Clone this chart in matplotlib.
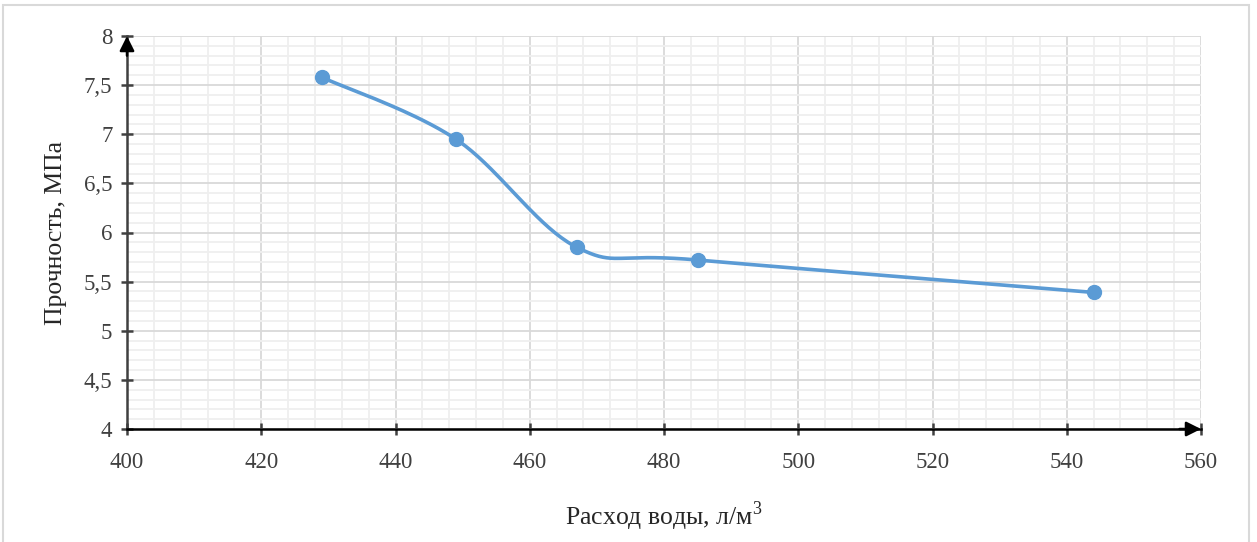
import matplotlib
matplotlib.use("Agg")
import matplotlib.pyplot as plt
import numpy as np
from matplotlib.patches import Rectangle
from matplotlib.ticker import MultipleLocator, FuncFormatter

# water consumption, l/m3 vs strength, MPa
water = [429, 449, 467, 485, 544]
strength = [7.58, 6.95, 5.85, 5.72, 5.39]

x_label = "Расход воды, л/м$^3$"
y_label = "Прочность, МПа"

plt.rcParams['font.family'] = ['Liberation Serif', 'DejaVu Serif']
plt.rcParams['mathtext.fontset'] = 'custom'
plt.rcParams['mathtext.rm'] = 'Liberation Serif'

W, H = 1257, 542
fig = plt.figure(figsize=(W / 100, H / 100), dpi=100)
# plot area in pixels: x 127..1201, y 36..429
ax = fig.add_axes([127 / W, 1 - 429 / H, (1201 - 127) / W, (429 - 36) / H])

# chart border
fig.patches.append(Rectangle((3 / W, -0.05), 1246 / W, 1 - 5 / H + 0.05,
                             transform=fig.transFigure, fill=False,
                             edgecolor='#d9d9d9', linewidth=1.5))

ax.set_xlim(400, 560)
ax.set_ylim(4, 8)
ax.xaxis.set_major_locator(MultipleLocator(20))
ax.xaxis.set_minor_locator(MultipleLocator(4))
ax.yaxis.set_major_locator(MultipleLocator(0.5))
ax.yaxis.set_minor_locator(MultipleLocator(0.1))
ax.yaxis.set_major_formatter(FuncFormatter(lambda v, p: f"{v:g}".replace('.', ',')))

ax.grid(which='major', color='#d9d9d9', linewidth=1.3)
ax.grid(which='minor', color='#efefef', linewidth=1.3)
ax.set_axisbelow(True)

for s in ['top', 'right']:
    ax.spines[s].set_visible(False)
ax.spines['left'].set_color('#404040')
ax.spines['left'].set_linewidth(1.8)
ax.spines['bottom'].set_color('black')
ax.spines['bottom'].set_linewidth(1.8)

ax.tick_params(which='major', direction='inout', length=9, width=1.8,
               labelsize=16.5, colors='#404040')
ax.tick_params(axis='x', pad=12)
ax.tick_params(axis='y', pad=6)
ax.tick_params(which='minor', length=0)
for t in ax.get_xticklabels() + ax.get_yticklabels():
    t.set_color('#404040')

# axis arrows
ax.annotate('', xy=(1, 0), xycoords='axes fraction', xytext=(0.98, 0),
            arrowprops=dict(arrowstyle='-|>', color='black', lw=1.8,
                            mutation_scale=22, shrinkA=0, shrinkB=0))
ax.annotate('', xy=(0, 1), xycoords='axes fraction', xytext=(0, 0.95),
            arrowprops=dict(arrowstyle='-|>', color='black', lw=1.8,
                            mutation_scale=22, shrinkA=0, shrinkB=0))

# smoothed line like a spreadsheet chart (Catmull-Rom style in pixel space)
pts = ax.transData.transform(np.column_stack([water, strength]))
n = len(pts)
curve = []
t = np.linspace(0, 1, 40)
for i in range(n - 1):
    p0 = pts[i - 1] if i > 0 else pts[i]
    p1 = pts[i]
    p2 = pts[i + 1]
    p3 = pts[i + 2] if i + 2 < n else pts[i + 1]
    c1 = p1 + (p2 - p0) / 6
    c2 = p2 - (p3 - p1) / 6
    seg = ((1 - t)[:, None] ** 3 * p1 + 3 * ((1 - t) ** 2 * t)[:, None] * c1
           + 3 * ((1 - t) * t ** 2)[:, None] * c2 + (t ** 3)[:, None] * p2)
    curve.append(seg)
curve = ax.transData.inverted().transform(np.vstack(curve))

ax.plot(curve[:, 0], curve[:, 1], color='#5b9bd5', linewidth=2.6, zorder=3)
ax.plot(water, strength, 'o', color='#5b9bd5', markersize=10, zorder=4)

ax.set_xlabel(x_label, fontsize=18.5, color='#262626', labelpad=19)
ax.set_ylabel(y_label, fontsize=18.5, color='#262626', labelpad=12)

fig.savefig("out.png", dpi=100)
